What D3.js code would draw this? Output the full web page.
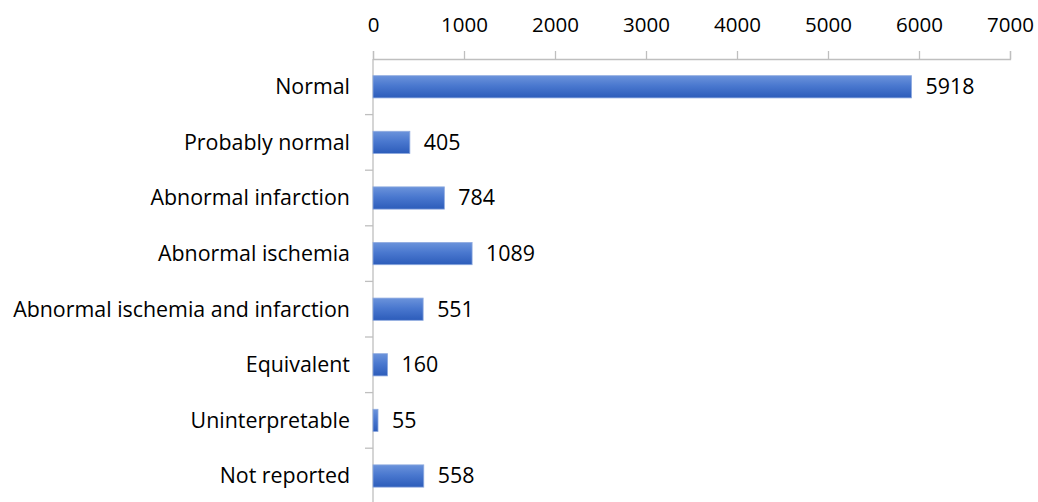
<!DOCTYPE html>
<html>
<head>
<meta charset="utf-8">
<script src="https://cdn.jsdelivr.net/npm/d3@7"></script>
<style>
  html, body { margin: 0; padding: 0; background: #fff; }
  svg { display: block; }
  text { font-family: "Open Sans", "Liberation Sans", sans-serif; fill: #000; }
</style>
</head>
<body>
<div id="chart"></div>
<script>
// Result categories and their counts
const categories = [
  "Normal",
  "Probably normal",
  "Abnormal infarction",
  "Abnormal ischemia",
  "Abnormal ischemia and infarction",
  "Equivalent",
  "Uninterpretable",
  "Not reported"
];
const counts = [5918, 405, 784, 1089, 551, 160, 55, 558];
const xTicks = [0, 1000, 2000, 3000, 4000, 5000, 6000, 7000];

const width = 1038, height = 502;
const margin = { top: 59, left: 373, right: 28 };

const svg = d3.select("#chart").append("svg")
  .attr("width", width).attr("height", height);

const defs = svg.append("defs");
const grad = defs.append("linearGradient")
  .attr("id", "barFill").attr("x1", 0).attr("y1", 0).attr("x2", 0).attr("y2", 1);
grad.append("stop").attr("offset", "0%").attr("stop-color", "#6b93db");
grad.append("stop").attr("offset", "45%").attr("stop-color", "#4a78cf");
grad.append("stop").attr("offset", "100%").attr("stop-color", "#2c5cba");

const x = d3.scaleLinear().domain([0, 7000]).range([margin.left, width - margin.right]);
const y = d3.scaleBand().domain(categories)
  .range([margin.top, margin.top + 55.6 * categories.length])
  .paddingInner(0.6).paddingOuter(0.3);
const yBands = d3.scaleBand().domain(categories)
  .range([margin.top, margin.top + 55.6 * categories.length]);

// Top value axis
const xAxis = svg.append("g")
  .attr("transform", `translate(0,${margin.top})`)
  .call(d3.axisTop(x).tickValues(xTicks).tickSize(8).tickPadding(19).tickFormat(d3.format("d")));
xAxis.select(".domain").attr("stroke", "#bfbfbf").attr("stroke-width", 1.3);
xAxis.selectAll(".tick line").attr("stroke", "#bfbfbf").attr("stroke-width", 1.3);
xAxis.selectAll(".tick text").attr("font-size", 20.5).attr("fill", "#000")
  .attr("font-family", "'Open Sans', sans-serif");

// Category axis with separators between bands
const axisG = svg.append("g");
axisG.append("line")
  .attr("x1", x(0)).attr("x2", x(0))
  .attr("y1", margin.top).attr("y2", height)
  .attr("stroke", "#bfbfbf").attr("stroke-width", 1.3);
axisG.selectAll("line.sep")
  .data(categories)
  .join("line")
  .attr("class", "sep")
  .attr("x1", x(0) - 8).attr("x2", x(0))
  .attr("y1", d => yBands(d) + yBands.bandwidth())
  .attr("y2", d => yBands(d) + yBands.bandwidth())
  .attr("stroke", "#bfbfbf").attr("stroke-width", 1.3);
axisG.selectAll("text.cat")
  .data(categories)
  .join("text")
  .attr("class", "cat")
  .attr("x", x(0) - 23)
  .attr("y", d => yBands(d) + yBands.bandwidth() / 2)
  .attr("dy", "0.35em")
  .attr("text-anchor", "end")
  .attr("font-size", 21.4)
  .text(d => d);

// Bars
svg.append("g").selectAll("rect")
  .data(categories.map((c, i) => ({ c, v: counts[i] })))
  .join("rect")
  .attr("x", x(0))
  .attr("y", d => y(d.c))
  .attr("width", d => x(d.v) - x(0))
  .attr("height", y.bandwidth())
  .attr("fill", "url(#barFill)")
  .attr("stroke", "#8eaadf")
  .attr("stroke-width", 0.8);

// Value labels
svg.append("g").selectAll("text")
  .data(categories.map((c, i) => ({ c, v: counts[i] })))
  .join("text")
  .attr("x", d => x(d.v) + 14)
  .attr("y", d => y(d.c) + y.bandwidth() / 2)
  .attr("dy", "0.35em")
  .attr("font-size", 21.4)
  .text(d => d.v);
</script>
</body>
</html>
